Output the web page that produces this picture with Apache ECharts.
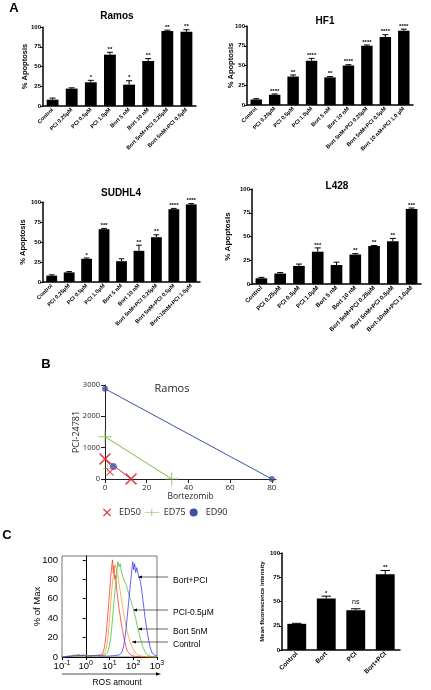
<!DOCTYPE html>
<html><head><meta charset="utf-8">
<script src="https://cdn.jsdelivr.net/npm/echarts@6/dist/echarts.min.js"></script>
<style>html,body{margin:0;padding:0;background:#fff}#c{width:431px;height:690px}</style>
</head><body><div id="c"></div>
<script>
// ---------- DATA ----------
// Panel A
const ramosCats = ['Control','PCI 0.25μM','PCI 0.5μM','PCI 1.0μM','Bort 5 nM','Bort 10 nM','Bort 5nM+PCI 0.25μM','Bort 5nM+PCI 0.5μM'];
const ramosVals = [8,22,30,65,27,57,95,94];
const ramosErr  = [2,1,2.5,3,5,3,1,2.5];
const ramosSig  = ['','','*','**','*','**','**','**'];

const hf1Cats = ['Control','PCI 0.25μM','PCI 0.5μM','PCI 1.0μM','Bort 5 nM','Bort 10 nM','Bort 5nM+PCI 0.25μM','Bort 5nM+PCI 0.5μM','Bort 10 nM+PCI 1.0 μM'];
const hf1Vals = [7,13,36,56,35,50,75,86,94];
const hf1Err  = [1,1,2,3,1,1,1,3,2];
const hf1Sig  = ['','****','**','****','**','****','****','****','****'];

const sudCats = ['Control','PCI 0.25μM','PCI 0.5μM','PCI 1.0μM','Bort 5 nM','Bort 10 nM','Bort 5nM+PCI 0.25μM','Bort 5nM+PCI 0.5μM','Bort-10nM+PCI 1.0μM'];
const sudVals = [8,12,29,66,26,39,56,91,97];
const sudErr  = [1,1,1,1,3,7,3,1,1];
const sudSig  = ['','','*','***','','**','**','****','****'];

const l428Cats = ['Control','PCI 0.25μM','PCI 0.5μM','PCI 1.0μM','Bort 5 nM','Bort 10 nM','Bort 5nM+PCI 0.25μM','Bort 5nM+PCI 0.5μM','Bort-10nM+PCI 1.0μM'];
const l428Vals = [6,11,19,34,20,31,40,45,79];
const l428Err  = [1,1,2,4,3,1,0.5,3,1];
const l428Sig  = ['','','','***','','**','**','**','***'];

// Panel B (isobologram, Bortezomib vs PCI-24781)
const ed50Line  = [[0,640],[12.5,0]];
const ed50Combo = [[2.4,224]];
const ed75Line  = [[0,1350],[32,0]];
const ed75Combo = [[1.1,340]];
const ed90Line  = [[0,2880],[80,0]];
const ed90Combo = [[4,400]];
const bXTicks = [0,20,40,60,80];
const bYTicks = [0,1000,2000,3000];

// Panel C histogram ([log10 ROS amount, % of Max])
const ctrlCurve = [[-1,0],[-0.8,0.5],[-0.6,1],[-0.5,2],[-0.4,1.5],[-0.3,2.5],[-0.2,1.5],[-0.1,2],[0,1],[0.1,1.5],[0.2,1],[0.3,1.5],[0.4,1],[0.5,2],[0.6,2],[0.7,3],[0.75,6],[0.8,12],[0.85,22],[0.9,35],[0.95,50],[1.0,65],[1.05,82],[1.1,95],[1.13,100],[1.16,86],[1.19,94],[1.22,80],[1.26,84],[1.3,70],[1.35,60],[1.4,50],[1.45,42],[1.5,34],[1.55,27],[1.6,20],[1.65,15],[1.7,10],[1.75,6],[1.8,4],[1.9,2],[2.0,1],[2.2,0.5],[2.5,0],[3,0]];
const bortCurve = [[-1,0],[-0.7,1],[-0.5,1.5],[-0.3,1],[-0.1,2],[0.1,1.5],[0.3,1],[0.5,1.5],[0.7,2],[0.8,4],[0.85,8],[0.9,14],[0.95,24],[1.0,38],[1.05,55],[1.1,70],[1.15,82],[1.2,90],[1.25,95],[1.3,88],[1.35,84],[1.4,76],[1.45,68],[1.5,60],[1.55,52],[1.6,45],[1.65,38],[1.7,32],[1.75,26],[1.8,21],[1.85,17],[1.9,13],[2.0,8],[2.1,4],[2.2,2],[2.35,1],[2.6,0],[3,0]];
const pciCurve = [[-1,0],[-0.6,1],[-0.4,2],[-0.2,1],[0,2],[0.2,1],[0.4,1.5],[0.6,1],[0.8,2],[0.9,4],[0.95,7],[1.0,12],[1.05,20],[1.1,32],[1.15,46],[1.2,60],[1.25,74],[1.3,86],[1.35,98],[1.4,93],[1.45,96],[1.5,88],[1.55,84],[1.6,80],[1.65,82],[1.7,75],[1.75,70],[1.8,66],[1.85,62],[1.9,58],[1.95,54],[2.0,50],[2.05,45],[2.1,40],[2.15,34],[2.2,29],[2.25,24],[2.3,19],[2.35,15],[2.4,11],[2.45,8],[2.5,5],[2.6,2],[2.7,1],[2.8,0],[3,0]];
const comboCurve = [[-1,0],[-0.5,1],[-0.2,1.5],[0.1,1],[0.4,1.5],[0.7,1],[1.0,1],[1.2,1.5],[1.4,2],[1.5,4],[1.55,7],[1.6,12],[1.65,20],[1.7,30],[1.75,42],[1.8,55],[1.85,68],[1.9,80],[1.95,92],[1.98,98],[2.02,90],[2.06,96],[2.1,87],[2.15,92],[2.2,86],[2.25,84],[2.3,78],[2.35,70],[2.4,60],[2.45,50],[2.5,40],[2.55,32],[2.6,24],[2.65,17],[2.7,11],[2.75,7],[2.8,4],[2.9,2],[3.0,1]];
const histXTicks = [-1,0,1,2,3];
const histYTicks = [0,20,40,60,80,100];

// Panel C bar chart
const mfiCats = ['Control','Bort','PCI','Bort+PCI'];
const mfiVals = [27,53,41,78];
const mfiErr  = [0.5,2.5,1.5,4];
const mfiSig  = ['','*','ns','**'];

// ---------- CHART ----------
const FA = '"Liberation Sans", Arial, sans-serif';
const FB = '"Open Sans", "Liberation Sans", sans-serif';
const chart = echarts.init(document.getElementById('c'));

const grids = [
  {left:43, top:27, width:153, height:79},
  {left:247, top:26, width:166, height:79},
  {left:43, top:202, width:157, height:80},
  {left:252, top:189, width:169, height:95},
  {left:105, top:385, width:171, height:94},
  {left:62, top:556, width:95, height:101, show:true, borderColor:'#777', borderWidth:1},
  {left:282, top:553, width:118, height:97}
];

function catAxis(g, cats, fs) {
  return {type:'category', gridIndex:g, data:cats,
    axisLine:{lineStyle:{color:'#000', width:1.5}},
    axisTick:{alignWithLabel:true, length:3, lineStyle:{color:'#000', width:1}},
    axisLabel:{interval:0, rotate:45, fontSize:fs, fontWeight:'bold', fontFamily:FA, color:'#000', margin:3}};
}
function pctAxis(g, name, gap, fs) {
  return {type:'value', gridIndex:g, min:0, max:100, interval:25, name:name, nameLocation:'middle', nameGap:gap,
    nameMoveOverlap:false,
    nameTextStyle:{fontSize:fs, fontWeight:'bold', fontFamily:FA, color:'#000'},
    axisLine:{show:true, lineStyle:{color:'#000', width:1.5}},
    axisTick:{show:true, length:3, lineStyle:{color:'#000'}},
    axisLabel:{fontSize:6, fontWeight:'bold', fontFamily:FA, color:'#000', margin:2},
    splitLine:{show:false}};
}
function errSeries(g, vals, errs, sig) {
  return {type:'custom', xAxisIndex:g, yAxisIndex:g, silent:true, z:5,
    data: vals.map((v,i)=>[i,v]),
    encode:{x:0, y:1},
    renderItem:function(params, api){
      const i = params.dataIndex;
      const v = api.value(1), e = errs[i];
      const p0 = api.coord([api.value(0), v]);
      const p1 = api.coord([api.value(0), v+e]);
      const bw = api.size([1,0])[0]*0.32;
      const s = sig[i];
      return {type:'group', children:[
        {type:'line', shape:{x1:p0[0], y1:p0[1], x2:p1[0], y2:p1[1]}, style:{stroke:'#000', lineWidth:1}},
        {type:'line', shape:{x1:p1[0]-bw/2, y1:p1[1], x2:p1[0]+bw/2, y2:p1[1]}, style:{stroke:'#000', lineWidth:1}},
        {type:'text', style:{text:s, x:p1[0], y:p1[1]-(s==='ns'?3:0), align:'center', verticalAlign:'bottom',
          font: s==='ns' ? 'normal 7px '+FA : 'bold 6px '+FA, fill:'#000'}}
      ]};
    }};
}
const plain = v => String(v);

const xAxes = [
  catAxis(0, ramosCats, 5.5),
  catAxis(1, hf1Cats, 5.5),
  catAxis(2, sudCats, 5.5),
  catAxis(3, l428Cats, 6),
  {type:'value', gridIndex:4, min:0, max:82,
    axisLine:{lineStyle:{color:'#231f20', width:1}},
    axisTick:{customValues:bXTicks, length:4, lineStyle:{color:'#231f20'}},
    axisLabel:{customValues:bXTicks, formatter:plain, fontSize:8, fontFamily:FB, color:'#231f20', margin:5},
    splitLine:{show:false},
    name:'Bortezomib', nameLocation:'middle', nameGap:13, nameMoveOverlap:false,
    nameTextStyle:{fontSize:8.5, fontFamily:FB, color:'#231f20'}},
  {type:'value', gridIndex:5, min:-1, max:3,
    axisLine:{lineStyle:{color:'#000', width:1}},
    axisTick:{customValues:histXTicks, length:3, lineStyle:{color:'#000'}},
    axisLabel:{customValues:histXTicks, margin:3, color:'#000',
      formatter:function(v){return '{b|10}{s|'+v+'}';},
      rich:{b:{fontSize:9.5, fontFamily:FA, color:'#000', verticalAlign:'bottom', lineHeight:11},
            s:{fontSize:7, fontFamily:FA, color:'#000', verticalAlign:'top', lineHeight:11}}},
    splitLine:{show:false}},
  catAxis(6, mfiCats, 6.5)
];
const yAxes = [
  pctAxis(0, '% Apoptosis', 14, 7.5),
  pctAxis(1, '% Apoptosis', 12, 7.5),
  pctAxis(2, '% Apoptosis', 16, 7.5),
  pctAxis(3, '% Apoptosis', 20, 8),
  {type:'value', gridIndex:4, min:0, max:3000,
    axisLine:{lineStyle:{color:'#231f20', width:1}},
    axisTick:{customValues:bYTicks, length:4, lineStyle:{color:'#231f20'}},
    axisLabel:{customValues:bYTicks, formatter:plain, fontSize:7.5, fontFamily:FB, color:'#231f20', margin:5},
    splitLine:{show:false},
    name:'PCI-24781', nameLocation:'middle', nameGap:24, nameMoveOverlap:false,
    nameTextStyle:{fontSize:9, fontFamily:FB, color:'#231f20'}},
  {type:'value', gridIndex:5, min:0, max:104,
    axisLine:{lineStyle:{color:'#000', width:1}},
    axisTick:{customValues:histYTicks, length:3, lineStyle:{color:'#000'}},
    axisLabel:{customValues:histYTicks, fontSize:9.5, fontFamily:FA, color:'#000', margin:4},
    splitLine:{show:false},
    name:'% of Max', nameLocation:'middle', nameGap:20, nameMoveOverlap:false,
    nameTextStyle:{fontSize:9.5, fontFamily:FA, color:'#000'}},
  pctAxis(6, 'Mean fluorescence intensity', 17, 6)
];

const series = [];
[[0,ramosVals,ramosErr,ramosSig],[1,hf1Vals,hf1Err,hf1Sig],[2,sudVals,sudErr,sudSig],[3,l428Vals,l428Err,l428Sig],[6,mfiVals,mfiErr,mfiSig]].forEach(function(p){
  series.push({type:'bar', xAxisIndex:p[0], yAxisIndex:p[0], data:p[1], barWidth: p[0]===6 ? '64%' : '62%', itemStyle:{color:'#000'}, silent:true});
  series.push(errSeries(p[0], p[1], p[2], p[3]));
});

const RED='#e4202a', GREEN='#7cbb4a', BLUE='#3f51a3';
const Xpath = 'path://M0,1 L1,0 L5,4 L9,0 L10,1 L6,5 L10,9 L9,10 L5,6 L1,10 L0,9 L4,5 Z';
const Ppath = 'path://M9.5,0 H10.5 V4.5 H20 V5.5 H10.5 V10 H9.5 V5.5 H0 V4.5 H9.5 Z';
const Psmall = 'path://M4.6,0 H5.4 V4.6 H10 V5.4 H5.4 V10 H4.6 V5.4 H0 V4.6 H4.6 Z';
function bLine(name, data, color){return {name:name, type:'line', xAxisIndex:4, yAxisIndex:4, data:data, symbol:'none', lineStyle:{color:color, width:1}, itemStyle:{color:color}, silent:true, z:3};}
function bPts(name, data, color, symbol, size){return {name:name, type:'scatter', xAxisIndex:4, yAxisIndex:4, data:data, symbol:symbol, symbolSize:size, itemStyle:{color:color}, silent:true, z:4, clip:false};}
series.push(bLine('ED90', ed90Line, BLUE), bPts('ED90', ed90Line, BLUE, 'circle', 6), bPts('ED90', ed90Combo, BLUE, 'circle', 7));
series.push(bLine('ED75', ed75Line, GREEN), bPts('ED75', ed75Line, GREEN, Psmall, 13), bPts('ED75', ed75Combo, GREEN, Psmall, 8));
series.push(bLine('ED50', ed50Line, RED), bPts('ED50', ed50Line, RED, Xpath, [12,12]), bPts('ED50', ed50Combo, RED, Xpath, 8));

function hLine(data, color){return {type:'line', xAxisIndex:5, yAxisIndex:5, data:data, symbol:'none', lineStyle:{color:color, width:0.8}, silent:true};}
series.push(hLine(ctrlCurve, '#f23b3b'), hLine(bortCurve, '#f2a22a'), hLine(pciCurve, '#4cbf3a'), hLine(comboCurve, '#3a3cf2'));

function arrowAnn(x0, y, x1, txt, ty){
  return [
    {type:'line', shape:{x1:x0, y1:y, x2:x1, y2:y}, style:{stroke:'#000', lineWidth:0.6}},
    {type:'polygon', shape:{points:[[x0,y],[x0+4,y-1.5],[x0+4,y+1.5]]}, style:{fill:'#000'}},
    {type:'text', style:{text:txt, x:173, y:ty, font:'8.5px '+FA, fill:'#000', verticalAlign:'middle'}}
  ];
}
const gText = (t,x,y,font,align,fill)=>({type:'text', style:{text:t, x:x, y:y, font:font, fill:fill||'#000', align:align||'center', verticalAlign:'middle'}});

const graphic = [
  gText('A', 14, 8, 'bold 13px '+FA),
  gText('B', 46, 364, 'bold 13px '+FA),
  gText('C', 7, 535, 'bold 13px '+FA),
  gText('Ramos', 117, 16, 'bold 10px '+FA),
  gText('HF1', 325, 21, 'bold 10px '+FA),
  gText('SUDHL4', 121, 193, 'bold 10px '+FA),
  gText('L428', 337, 186, 'bold 10px '+FA),
  gText('Ramos', 172, 389, '11px '+FB, 'center', '#231f20'),
  gText('ROS amount', 117, 683, '8.5px '+FA),
  {type:'line', shape:{x1:62, y1:674, x2:158, y2:674}, style:{stroke:'#000', lineWidth:0.7}},
  {type:'polygon', shape:{points:[[161,674],[156,672.3],[156,675.7]]}, style:{fill:'#000'}}
].concat(arrowAnn(138,577,168,'Bort+PCI',581))
 .concat(arrowAnn(133,610,168,'PCI-0.5μM',613))
 .concat(arrowAnn(138,629,168,'Bort 5nM',632))
 .concat(arrowAnn(132,642,168,'Control',645));

chart.setOption({
  animation:false,
  backgroundColor:'#fff',
  grid:grids,
  xAxis:xAxes,
  yAxis:yAxes,
  legend:{left:98, top:503, itemWidth:14, itemHeight:8, itemGap:4, selectedMode:false,
    textStyle:{fontSize:9, fontFamily:FB, color:'#231f20'},
    data:[
      {name:'ED50', icon:Xpath, itemStyle:{color:RED}},
      {name:'ED75', icon:Ppath, itemStyle:{color:GREEN}},
      {name:'ED90', icon:'circle', itemStyle:{color:BLUE}}
    ]},
  series:series,
  graphic:graphic
});
</script>
</body></html>
